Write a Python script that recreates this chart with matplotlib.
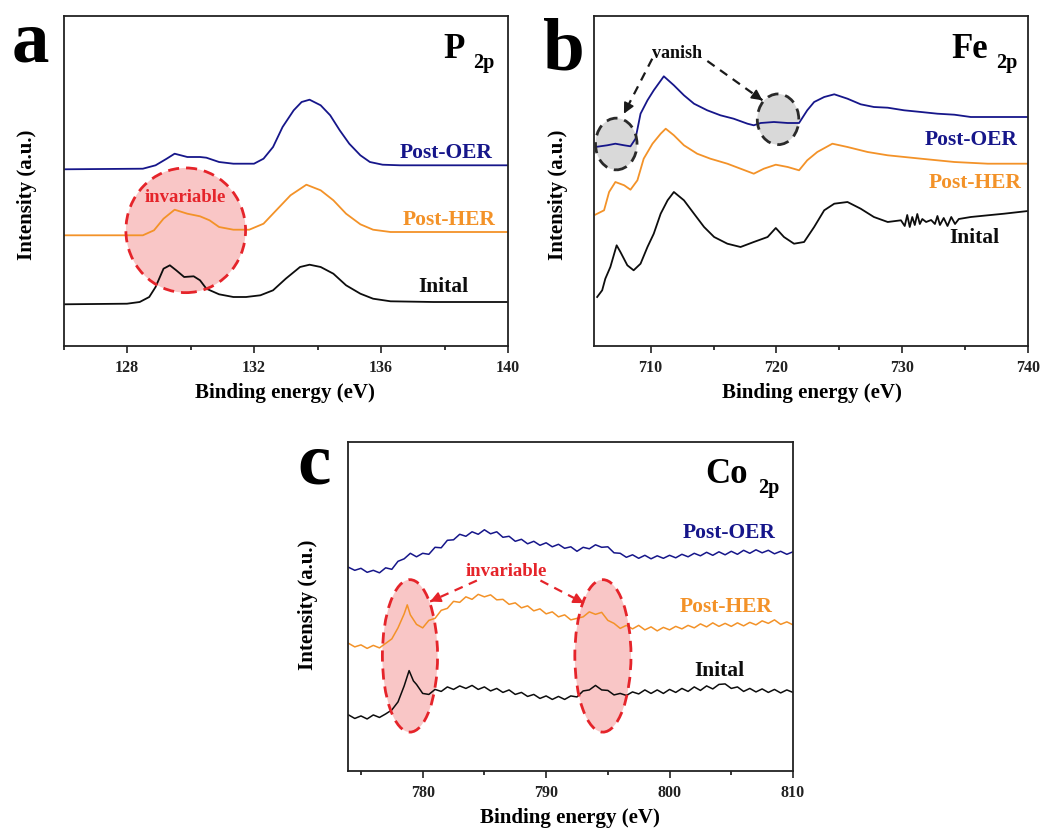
import matplotlib
matplotlib.use('Agg')
import matplotlib.pyplot as plt
from matplotlib.patches import Ellipse

plt.rcParams['font.family'] = ['Liberation Serif', 'DejaVu Serif']
plt.rcParams['font.weight'] = 'bold'

# ---------------- Panel a : P 2p ----------------
p_e_oer = [126.0, 128.5, 128.9, 129.25, 129.5, 129.9, 130.3, 130.5, 130.9, 131.35, 132.0, 132.3,
           132.6, 132.9, 133.25, 133.5, 133.75, 134.1, 134.4, 134.7, 135.0, 135.35, 135.65, 136.05,
           136.6, 137.65, 140.0]
p_oer = [176.7, 177.3, 180.7, 187.3, 192.3, 189.0, 189.0, 188.3, 184.0, 182.3, 182.3, 187.3,
         199.0, 219.0, 235.7, 244.0, 246.3, 240.7, 230.7, 215.7, 202.3, 190.7, 184.0, 181.3,
         180.7, 180.7, 180.7]
p_e_her = [126.0, 128.5, 128.85, 129.15, 129.5, 129.9, 130.3, 130.6, 130.9, 131.35, 131.85, 132.3,
           132.7, 133.15, 133.65, 134.1, 134.5, 134.9, 135.35, 135.75, 136.3, 137.65, 140.0]
p_her = [110.7, 110.7, 115.7, 127.3, 136.3, 132.3, 129.7, 125.7, 119.0, 116.3, 116.3, 122.3,
         135.7, 150.7, 161.3, 155.7, 145.7, 132.3, 121.7, 116.3, 114.0, 114.0, 114.0]
p_e_ini = [126.0, 128.0, 128.4, 128.7, 128.9, 129.15, 129.35, 129.55, 129.8, 130.1, 130.3, 130.5,
           130.9, 131.35, 131.75, 132.2, 132.6, 133.0, 133.45, 133.75, 134.1, 134.5, 134.9, 135.35,
           135.75, 136.3, 137.65, 140.0]
p_ini = [41.7, 42.3, 44.0, 49.0, 59.0, 77.3, 80.7, 75.7, 69.0, 69.7, 65.7, 57.3,
         51.7, 49.0, 49.0, 50.7, 55.7, 67.3, 79.0, 81.3, 79.0, 72.3, 60.7, 52.3,
         47.3, 44.7, 44.0, 44.0]
p_major = [128, 132, 136, 140]
p_minor = [126, 130, 134, 138]
p_labels = ['128', '132', '136', '140']

# ---------------- Panel b : Fe 2p ----------------
fe_e_oer = [705.6, 706.55, 707.2, 707.9, 708.4, 708.8, 709.2, 709.75, 710.25, 711.05, 711.85, 712.65,
            713.45, 714.5, 715.55, 716.6, 717.7, 718.2, 718.75, 719.8, 720.9, 721.8, 722.45, 723.0,
            723.8, 724.6, 725.65, 726.7, 727.75, 728.85, 730.15, 731.5, 732.8, 734.15, 735.45,
            736.8, 738.1, 740.0]
fe_oer = [199.0, 200.7, 202.3, 200.7, 199.7, 207.3, 232.3, 245.7, 255.7, 269.7, 260.7, 250.7,
          242.3, 235.7, 230.7, 227.3, 222.3, 220.7, 223.0, 224.0, 223.0, 223.0, 235.7, 244.0,
          249.0, 251.7, 247.3, 241.7, 239.0, 238.3, 235.7, 234.0, 232.3, 231.3, 229.0,
          229.0, 229.0, 229.0]
fe_e_her = [705.6, 706.3, 706.7, 707.2, 707.9, 708.4, 708.95, 709.45, 710.15, 710.8, 711.2, 711.85,
            712.65, 713.7, 714.75, 716.1, 717.15, 718.2, 719.0, 719.95, 720.9, 721.8, 722.45, 723.25,
            724.45, 725.65, 727.25, 728.85, 731.5, 734.15, 736.8, 740.0]
fe_her = [131.3, 135.7, 154.0, 164.0, 160.7, 156.3, 165.7, 187.3, 202.3, 212.3, 217.3, 210.7,
          200.7, 192.3, 187.3, 182.3, 177.3, 172.3, 177.3, 181.3, 179.0, 175.7, 185.7, 194.0,
          202.3, 199.0, 194.0, 190.7, 187.3, 184.0, 182.3, 182.3]
fe_e_ini = [705.75, 706.15, 706.4, 706.8, 707.3, 707.6, 708.15, 708.65, 709.2, 709.75, 710.25, 710.8,
            711.35, 711.85, 712.65, 713.45, 714.25, 715.05, 716.1, 717.15, 718.2, 719.3, 719.95,
            720.6, 721.4, 722.2, 723.0, 723.8, 724.6, 725.65, 726.7, 727.75, 728.85, 729.9,
            730.2, 730.4, 730.6, 730.8, 731.0, 731.2, 731.4, 731.6, 731.9, 732.3, 732.6, 732.8,
            733.0, 733.3, 733.6, 733.9, 734.2, 734.5, 735.45, 736.8, 738.1, 740.0]
fe_ini = [49.0, 55.7, 67.3, 79.0, 100.7, 94.0, 80.7, 75.7, 82.3, 99.0, 112.3, 132.3,
          145.7, 154.0, 145.7, 132.3, 119.0, 109.0, 102.3, 99.0, 104.0, 109.0, 118.0,
          109.0, 102.3, 104.0, 119.0, 135.7, 142.3, 144.0, 137.3, 129.0, 124.0, 125.7,
          120.0, 131.0, 119.0, 129.0, 121.0, 132.0, 122.0, 127.0, 124.0, 126.0, 122.0, 130.0,
          121.0, 128.0, 120.0, 129.0, 122.0, 127.0, 129.0, 130.7, 132.3, 135.0]
fe_major = [710, 720, 730, 740]
fe_minor = [715, 725, 735]
fe_labels = ['710', '720', '730', '740']

# ---------------- Panel c : Co 2p ----------------
co_e_oer = [774.0, 774.5, 775.0, 775.5, 776.0, 776.5, 777.0, 777.5, 778.0, 778.5, 779.0, 779.5,
            780.0, 780.5, 781.0, 781.5, 782.0, 782.5, 783.0, 783.5, 784.0, 784.5, 785.0, 785.5,
            786.0, 786.5, 787.0, 787.5, 788.0, 788.5, 789.0, 789.5, 790.0, 790.5, 791.0, 791.5,
            792.0, 792.5, 793.0, 793.5, 794.0, 794.5, 795.0, 795.5, 796.0, 796.5, 797.0, 797.5,
            798.0, 798.5, 799.0, 799.5, 800.0, 800.5, 801.0, 801.5, 802.0, 802.5, 803.0, 803.5,
            804.0, 804.5, 805.0, 805.5, 806.0, 806.5, 807.0, 807.5, 808.0, 808.5, 809.0, 809.5,
            810.0]
co_oer = [203.5, 200.5, 202.5, 198.5, 200.5, 198.0, 203.0, 201.5, 209.5, 212.0, 217.5, 214.0,
          217.5, 216.5, 223.5, 223.0, 230.5, 231.0, 236.5, 234.5, 239.0, 236.5, 241.0, 237.0,
          239.0, 233.5, 234.5, 229.5, 231.5, 227.0, 229.5, 225.5, 228.0, 224.0, 226.5, 222.5,
          224.0, 219.5, 223.5, 222.0, 226.0, 223.5, 224.0, 218.0, 217.5, 213.5, 216.0, 212.5,
          215.5, 212.0, 215.0, 212.5, 215.5, 213.0, 216.5, 214.0, 217.5, 215.0, 218.5, 215.5,
          219.0, 216.0, 219.5, 216.5, 220.5, 217.5, 221.0, 218.0, 220.5, 217.0, 219.5, 216.5,
          219.0]
co_e_her = [774.0, 774.5, 775.0, 775.5, 776.0, 776.5, 777.0, 777.5, 778.0, 778.5, 778.75, 779.0,
            779.5, 780.0, 780.5, 781.0, 781.5, 782.0, 782.5, 783.0, 783.5, 784.0, 784.5, 785.0,
            785.5, 786.0, 786.5, 787.0, 787.5, 788.0, 788.5, 789.0, 789.5, 790.0, 790.5, 791.0,
            791.5, 792.0, 792.5, 793.0, 793.5, 794.0, 794.5, 795.0, 795.5, 796.0, 796.5, 797.0,
            797.5, 798.0, 798.5, 799.0, 799.5, 800.0, 800.5, 801.0, 801.5, 802.0, 802.5, 803.0,
            803.5, 804.0, 804.5, 805.0, 805.5, 806.0, 806.5, 807.0, 807.5, 808.0, 808.5, 809.0,
            809.5, 810.0]
co_her = [127.5, 124.0, 126.0, 122.5, 125.5, 123.0, 127.5, 132.0, 143.0, 157.0, 166.0, 156.0,
          146.5, 143.0, 150.5, 152.5, 160.5, 162.5, 169.5, 168.5, 174.0, 171.5, 176.5, 174.0,
          176.0, 171.0, 171.5, 166.5, 168.0, 163.0, 165.0, 160.0, 162.0, 157.0, 159.0, 154.0,
          156.0, 151.0, 152.5, 154.0, 159.0, 156.5, 158.5, 150.5, 147.5, 142.5, 145.5, 142.0,
          145.5, 141.0, 144.0, 140.0, 143.5, 141.0, 144.5, 142.0, 145.5, 143.0, 147.0, 144.0,
          148.0, 144.5, 147.5, 144.5, 148.0, 145.0, 148.5, 146.0, 150.0, 147.5, 151.0, 146.5,
          149.0, 146.0]
co_e_ini = [774.0, 774.5, 775.0, 775.5, 776.0, 776.5, 777.0, 777.5, 778.0, 778.5, 778.9, 779.25,
            779.5, 780.0, 780.5, 781.0, 781.5, 782.0, 782.5, 783.0, 783.5, 784.0, 784.5, 785.0,
            785.5, 786.0, 786.5, 787.0, 787.5, 788.0, 788.5, 789.0, 789.5, 790.0, 790.5, 791.0,
            791.5, 792.0, 792.5, 793.0, 793.5, 794.0, 794.5, 795.0, 795.5, 796.0, 796.5, 797.0,
            797.5, 798.0, 798.5, 799.0, 799.5, 800.0, 800.5, 801.0, 801.5, 802.0, 802.5, 803.0,
            803.5, 804.0, 804.5, 805.0, 805.5, 806.0, 806.5, 807.0, 807.5, 808.0, 808.5, 809.0,
            809.5, 810.0]
co_ini = [56.0, 52.5, 55.0, 52.0, 56.0, 53.5, 57.0, 61.0, 69.0, 85.0, 100.3, 90.0,
          86.5, 77.5, 76.5, 81.5, 79.5, 84.0, 81.5, 85.0, 82.5, 85.5, 81.5, 84.0,
          80.0, 82.5, 78.5, 81.0, 76.5, 78.5, 74.5, 76.5, 72.5, 75.0, 71.5, 74.5,
          71.5, 75.0, 74.0, 80.0, 81.0, 85.5, 81.0, 80.5, 76.0, 77.5, 75.5, 79.0,
          77.0, 81.0, 77.5, 81.0, 77.5, 81.5, 78.5, 82.5, 79.5, 84.0, 80.5, 85.0,
          82.0, 86.5, 87.0, 82.5, 84.0, 79.5, 82.5, 79.0, 82.0, 78.5, 81.5, 78.0,
          81.0, 78.5]
co_major = [780, 790, 800, 810]
co_minor = [775, 785, 795, 805]
co_labels = ['780', '790', '800', '810']

series_names = ['Post-OER', 'Post-HER', 'Inital']

NAVY = '#16168a'
ORANGE = '#f39228'
BLACK = '#0d0d0d'
RED = '#e5242a'
PINK = '#f8bcbc'
GRAY = '#d9d9d9'

fig = plt.figure(figsize=(10.54, 8.32), dpi=100)
W, H = 1054.0, 832.0


def make_ax(l, t, r, b):
    return fig.add_axes([l / W, (H - b) / H, (r - l) / W, (b - t) / H])


def style(ax, xlim, ylim, major, minor, labels):
    ax.set_xlim(*xlim)
    ax.set_ylim(*ylim)
    ax.set_yticks([])
    ax.set_xticks(major)
    ax.set_xticklabels(labels)
    ax.set_xticks(minor, minor=True)
    ax.tick_params(axis='x', which='major', direction='out', length=5, width=1.2,
                   labelsize=11.5, pad=5, colors='#222222')
    ax.tick_params(axis='x', which='minor', direction='out', length=3, width=1.1)
    for s in ax.spines.values():
        s.set_linewidth(1.3)
        s.set_color('#222222')
    ax.set_xlabel('Binding energy (eV)', fontsize=15, fontweight='bold')
    ax.set_ylabel('Intensity (a.u.)', fontsize=15, fontweight='bold')


def series_labels(ax, pos):
    cols = [NAVY, ORANGE, BLACK]
    for name, c, (x, y) in zip(series_names, cols, pos):
        ax.text(x, y, name, transform=ax.transAxes, ha='right', va='center',
                fontsize=15.5, fontweight='bold', color=c)


def title(ax, el, xr, yb, xs, ys):
    ax.text(xr, yb, el, transform=ax.transAxes, ha='right', va='baseline',
            fontsize=25, fontweight='bold')
    ax.text(xs, ys, '2p', transform=ax.transAxes, ha='left', va='baseline',
            fontsize=14.5, fontweight='bold')


def dashed_arrow(ax, start, end, color, frac=0.12):
    ax.plot([start[0], end[0]], [start[1], end[1]], ls=(0, (4, 3)), color=color, lw=1.6, zorder=4)
    hx = end[0] - (end[0] - start[0]) * frac
    hy = end[1] - (end[1] - start[1]) * frac
    ax.annotate('', xy=end, xytext=(hx, hy),
                arrowprops=dict(arrowstyle='-|>', color=color, lw=1.2,
                                mutation_scale=16, shrinkA=0, shrinkB=0), zorder=5)


LW = 1.3

# ---- panel a ----
axa = make_ax(63.5, 16, 508, 346)
style(axa, (126, 140), (0, 330), p_major, p_minor, p_labels)
axa.add_patch(Ellipse((129.85, 115.7), 3.77, 124.7, facecolor=PINK, alpha=0.85,
                      edgecolor='none', zorder=1))
axa.plot(p_e_oer, p_oer, color=NAVY, lw=LW, zorder=2)
axa.plot(p_e_her, p_her, color=ORANGE, lw=LW, zorder=2)
axa.plot(p_e_ini, p_ini, color=BLACK, lw=LW, zorder=2)
axa.add_patch(Ellipse((129.85, 115.7), 3.77, 124.7, facecolor='none',
                      edgecolor=RED, lw=2.0, ls=(0, (4, 2.5)), zorder=3))
axa.text(129.85, 148, 'invariable', ha='center', va='center', fontsize=13.5,
         fontweight='bold', color=RED, zorder=4)
series_labels(axa, [(0.966, 0.585), (0.971, 0.382), (0.910, 0.179)])
title(axa, 'P', 0.903, 0.873, 0.921, 0.842)
axa.xaxis.set_label_coords(0.498, -0.142)
axa.xaxis.label.set_va('center')
axa.yaxis.set_label_coords(-0.082, 0.458)
axa.yaxis.label.set_va('center')
fig.text(12 / W, (H - 62) / H, 'a', fontsize=54, fontweight='bold', ha='left', va='baseline')

# ---- panel b ----
axb = make_ax(594, 16, 1028, 346)
style(axb, (705.5, 740), (0, 330), fe_major, fe_minor, fe_labels)
for cx, cy, h in [(707.27, 202.0, 51.7), (720.13, 226.7, 50.7)]:
    axb.add_patch(Ellipse((cx, cy), 3.3, h, facecolor=GRAY, edgecolor='none', zorder=1))
axb.plot(fe_e_oer, fe_oer, color=NAVY, lw=LW, zorder=2)
axb.plot(fe_e_her, fe_her, color=ORANGE, lw=LW, zorder=2)
axb.plot(fe_e_ini, fe_ini, color=BLACK, lw=LW, zorder=2)
for cx, cy, h in [(707.27, 202.0, 51.7), (720.13, 226.7, 50.7)]:
    axb.add_patch(Ellipse((cx, cy), 3.3, h, facecolor='none', edgecolor='#2a2a2a',
                          lw=2.0, ls=(0, (4, 2.5)), zorder=3))
axb.text(712.1, 293, 'vanish', ha='center', va='center', fontsize=13,
         fontweight='bold', color=BLACK, zorder=4)
dashed_arrow(axb, (710.13, 287.3), (707.88, 232.3), '#1a1a1a')
dashed_arrow(axb, (714.51, 285.0), (718.89, 245.7), '#1a1a1a')
series_labels(axb, [(0.975, 0.624), (0.986, 0.494), (0.933, 0.327)])
title(axb, 'Fe', 0.908, 0.873, 0.926, 0.842)
axb.xaxis.set_label_coords(0.502, -0.142)
axb.xaxis.label.set_va('center')
axb.yaxis.set_label_coords(-0.083, 0.458)
axb.yaxis.label.set_va('center')
fig.text(543 / W, (H - 69) / H, 'b', fontsize=54, fontweight='bold', ha='left', va='baseline')

# ---- panel c ----
axc = make_ax(348, 442, 793, 771)
style(axc, (773.95, 810), (0, 328.7), co_major, co_minor, co_labels)
for cx, w in [(778.97, 4.47), (794.6, 4.55)]:
    axc.add_patch(Ellipse((cx, 115.0), w, 152.3, facecolor=PINK, alpha=0.85,
                          edgecolor='none', zorder=1))
axc.plot(co_e_oer, co_oer, color=NAVY, lw=1.1, zorder=2)
axc.plot(co_e_her, co_her, color=ORANGE, lw=1.1, zorder=2)
axc.plot(co_e_ini, co_ini, color=BLACK, lw=1.1, zorder=2)
for cx, w in [(778.97, 4.47), (794.6, 4.55)]:
    axc.add_patch(Ellipse((cx, 115.0), w, 152.3, facecolor='none', edgecolor=RED,
                          lw=2.0, ls=(0, (4, 2.5)), zorder=3))
axc.text(786.8, 199, 'invariable', ha='center', va='center', fontsize=13.5,
         fontweight='bold', color=RED, zorder=4)
dashed_arrow(axc, (784.39, 190.3), (780.6, 169.3), RED)
dashed_arrow(axc, (789.54, 190.3), (793.06, 167.7), RED)
series_labels(axc, [(0.960, 0.723), (0.953, 0.498), (0.890, 0.304)])
title(axc, 'Co', 0.899, 0.875, 0.921, 0.845)
axc.xaxis.set_label_coords(0.499, -0.143)
axc.xaxis.label.set_va('center')
axc.yaxis.set_label_coords(-0.09, 0.505)
axc.yaxis.label.set_va('center')
fig.text(297 / W, (H - 483) / H, 'c', fontsize=54, fontweight='bold', ha='left', va='baseline')

fig.savefig('out.png', dpi=100)
